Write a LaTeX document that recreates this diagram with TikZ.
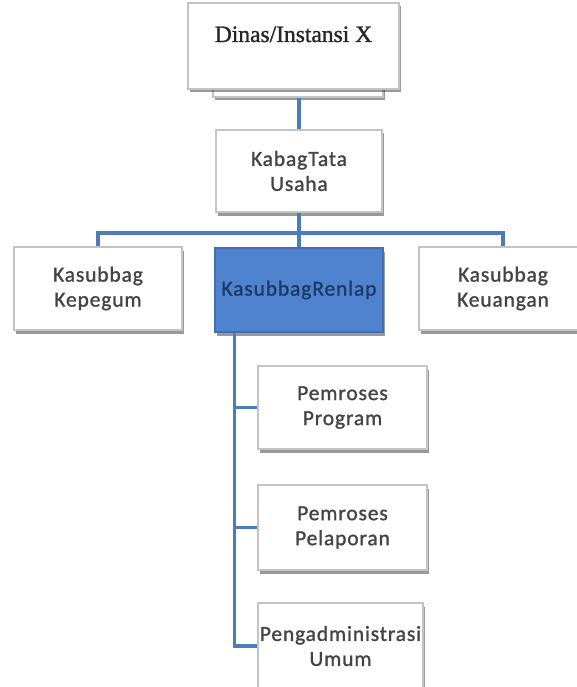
\documentclass[tikz,border=0pt]{standalone}
\usepackage{fontspec}
\setmainfont{Carlito}[LetterSpace=4,FakeBold=1.2]
\newfontfamily\serifbox{Liberation Serif}[FakeBold=1.2]
\usetikzlibrary{shadows,calc}
\definecolor{linkblue}{HTML}{4A7DBA}
\definecolor{boxgray}{HTML}{C4C4C4}
\definecolor{txtgray}{HTML}{444444}
\definecolor{renfill}{HTML}{4F83CF}
\definecolor{rentext}{HTML}{1C3A66}
\tikzset{
  orgbox/.style={draw=boxgray, line width=1.3pt, fill=white, align=center,
    inner sep=0pt, text=txtgray,
    font=\fontsize{21.5}{25}\selectfont,
    drop shadow={shadow xshift=1.5pt, shadow yshift=-3.5pt, fill=black, opacity=0.4}},
  renbox/.style={orgbox, draw=renfill!85!black, fill=renfill, text=rentext},
  link/.style={draw=linkblue, line width=3.5pt}
}
\begin{document}
\begin{tikzpicture}[x=1pt,y=-1pt]
\useasboundingbox[fill=white] (0,0) rectangle (576,687);
\coordinate (hb) at (0,233);
% boxes
\node[orgbox, minimum width=170pt, minimum height=74pt] (back) at (298,60) {};
\node[orgbox, minimum width=211pt, minimum height=86pt] (top) at (293.5,46) {};
\node[text=black!85, font=\serifbox\fontsize{23.5}{26}\selectfont, anchor=base] (toptext) at (293.5,42) {Dinas/Instansi X};
\node[orgbox, minimum width=166pt, minimum height=82pt] (kab) at (299,171) {Kabag\hspace{1pt}Tata\\Usaha};
\node[orgbox, minimum width=168pt, minimum height=83pt] (left) at (98,288.5) {Kasubbag\\Kepegum};
\node[renbox, minimum width=168pt, minimum height=84pt] (blue) at (299,290) {Kasubbag\hspace{1pt}Renlap};
\node[orgbox, minimum width=168pt, minimum height=83pt] (right) at (503,288.5) {Kasubbag\\Keuangan};
\node[orgbox, minimum width=169pt, minimum height=83pt] (prog) at (342.5,407.5) {Pemroses\\Program};
\node[orgbox, minimum width=169pt, minimum height=85pt] (pel) at (342.5,527.5) {Pemroses\\Pelaporan};
\node[orgbox, minimum width=165pt, minimum height=86pt] (peng) at (340.5,646) {Pengadministrasi\\Umum};
\coordinate (spine) at ($(blue.south west)+(20,0)$);
% connectors
\draw[link] (back.south -| kab.north) -- (kab.north);
\draw[link] (kab.south) -- (blue.north -| kab.south);
\draw[link] (left.north) -- (left.north |- hb) -- (right.north |- hb) -- (right.north);
\draw[link] (spine) |- (prog.west);
\draw[link] (spine) |- (pel.west);
\draw[link] (spine) |- (peng.west);
\end{tikzpicture}
\end{document}
